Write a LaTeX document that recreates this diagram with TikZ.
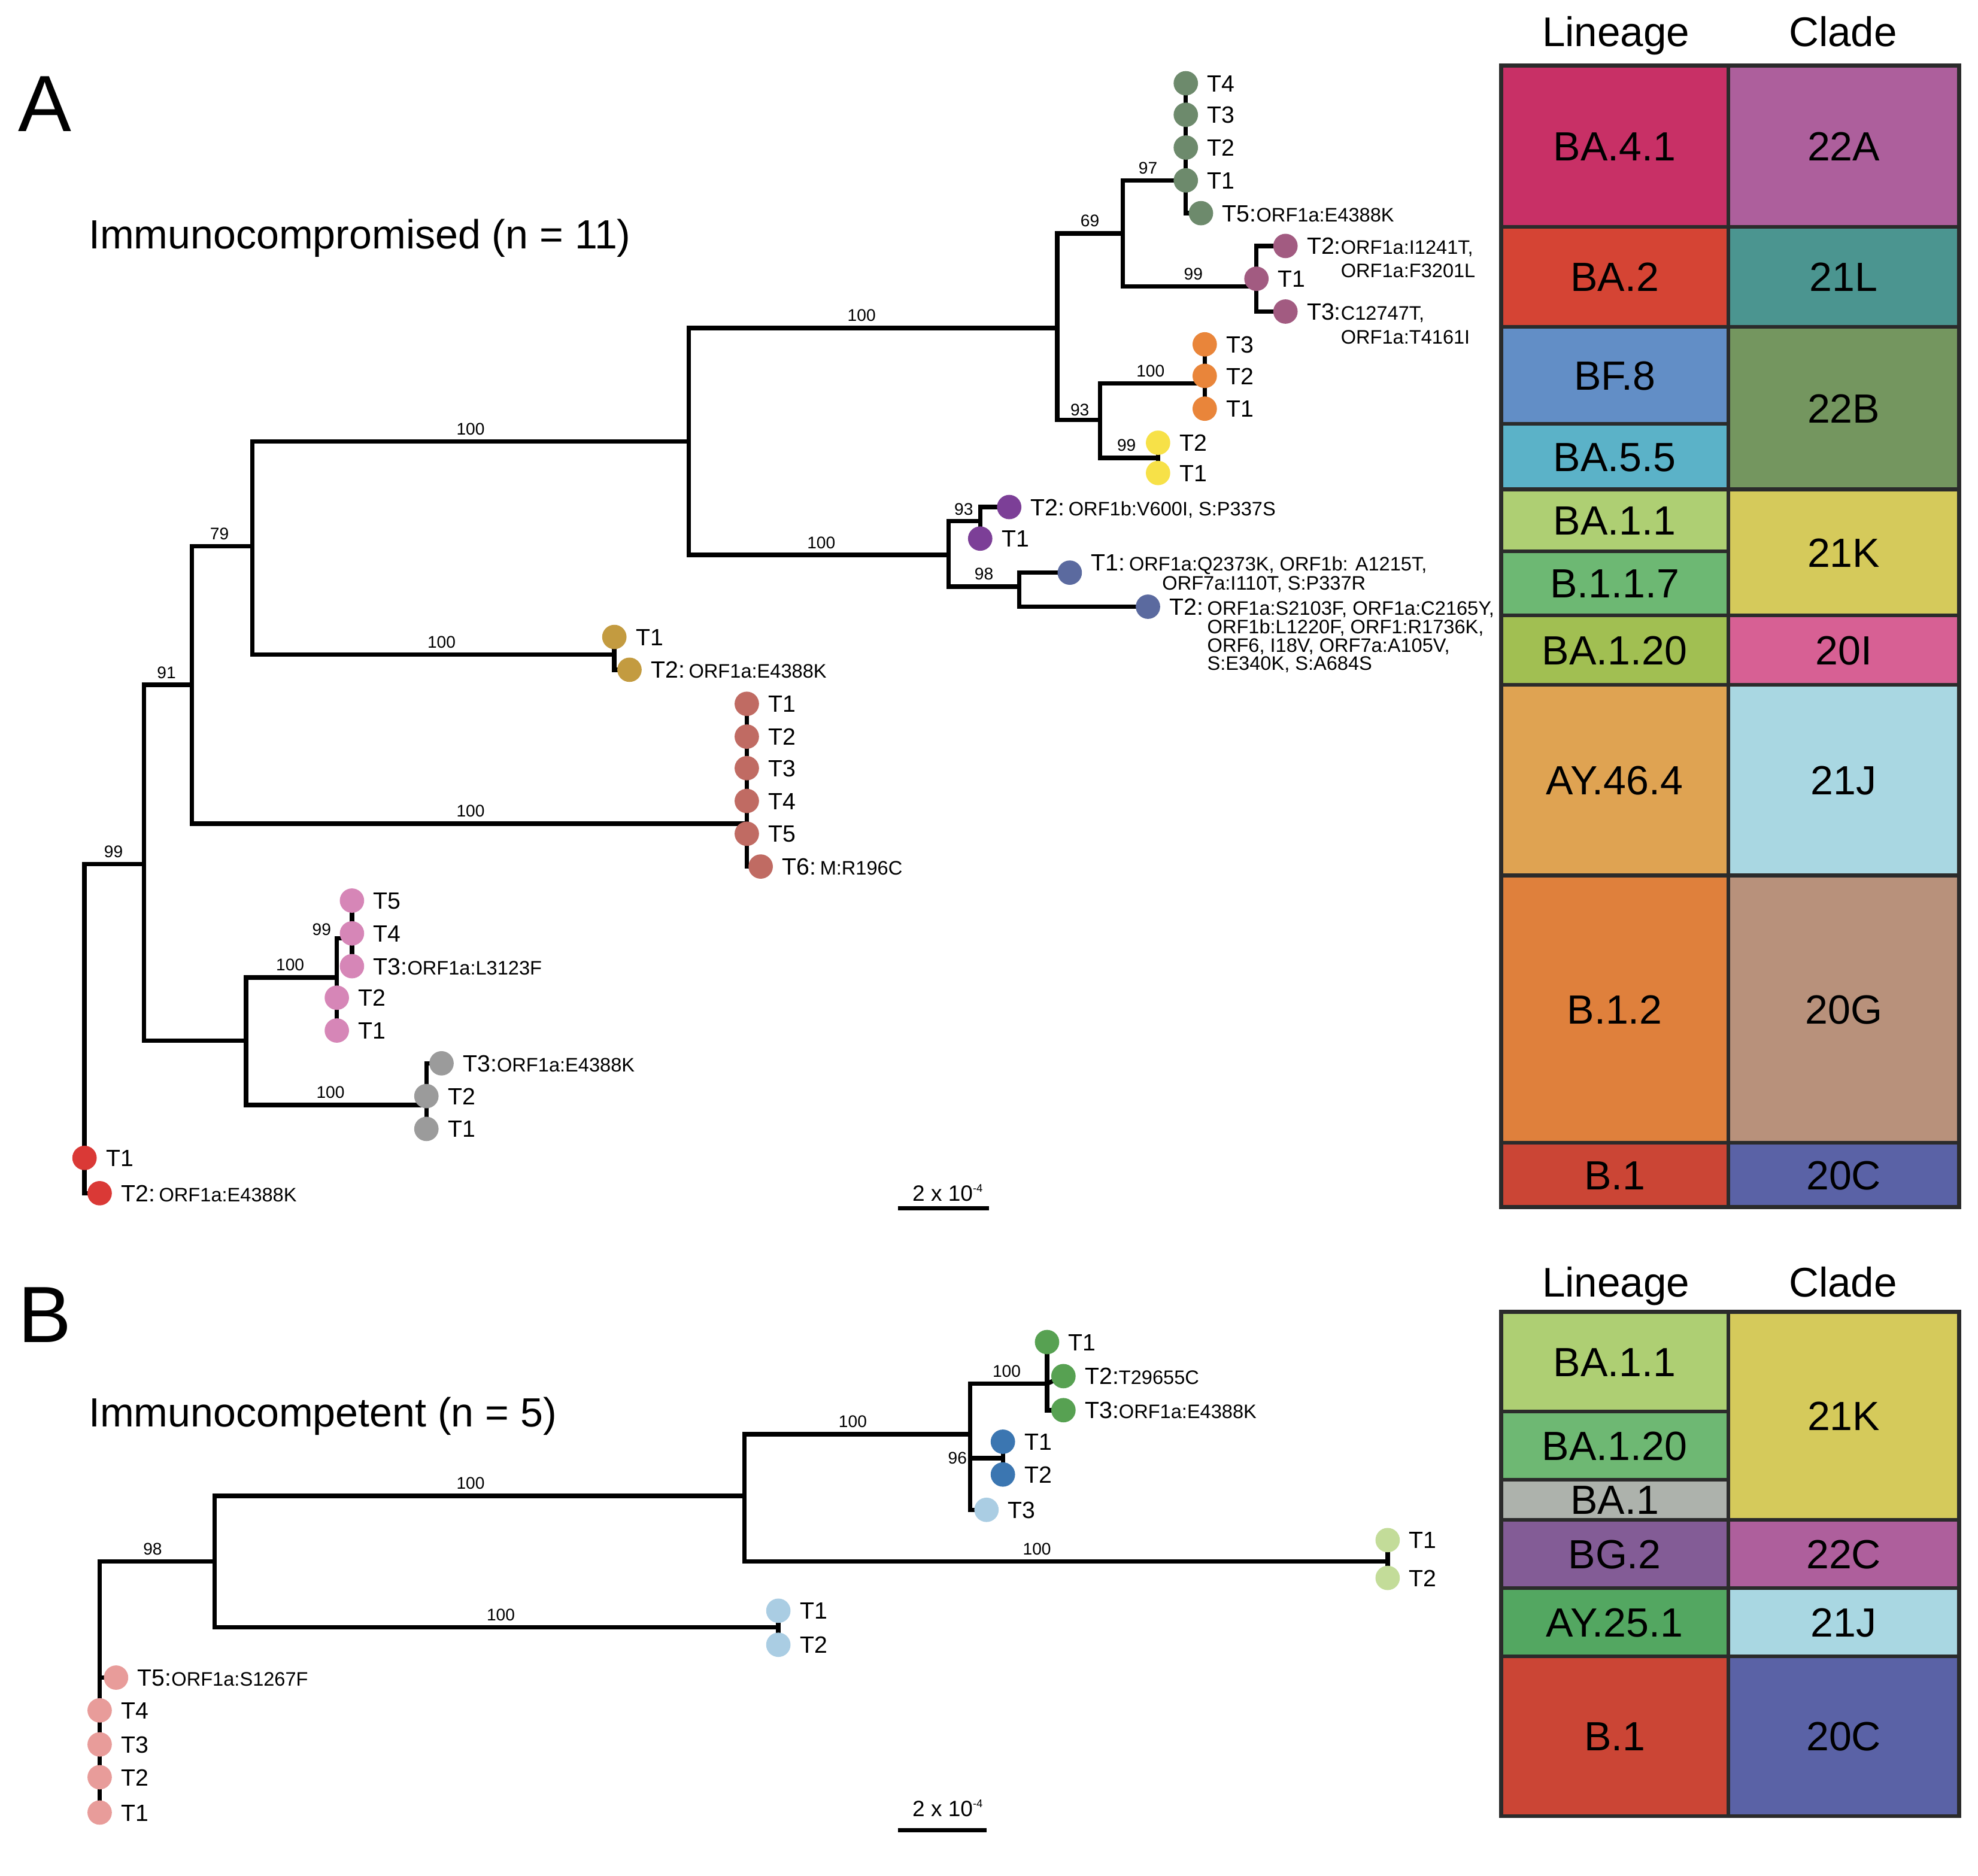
\documentclass[tikz,border=0pt]{standalone}
\usepackage{fontspec}
\setmainfont{Liberation Sans}
\usetikzlibrary{backgrounds}
% colours
\definecolor{tabline}{HTML}{2B2B2B}
\definecolor{cBAfourone}{HTML}{C83066}
\definecolor{cTwoTwoA}{HTML}{AD5F9C}
\definecolor{cBAtwo}{HTML}{D54434}
\definecolor{cTwoOneL}{HTML}{4B9590}
\definecolor{cBFeight}{HTML}{628EC6}
\definecolor{cTwoTwoB}{HTML}{74965F}
\definecolor{cBAfivefive}{HTML}{5BB2C8}
\definecolor{cBAoneone}{HTML}{AECF73}
\definecolor{cTwoOneK}{HTML}{D5CA5B}
\definecolor{cBoneoneseven}{HTML}{6DB873}
\definecolor{cBAonetwenty}{HTML}{A1BF52}
\definecolor{cTwoZeroI}{HTML}{D76094}
\definecolor{cAYfortysix}{HTML}{DFA352}
\definecolor{cTwoOneJ}{HTML}{A9D7E2}
\definecolor{cBonetwo}{HTML}{DF803C}
\definecolor{cTwoZeroG}{HTML}{B8917B}
\definecolor{cBone}{HTML}{CB4535}
\definecolor{cTwoZeroC}{HTML}{5A62A6}
\definecolor{cBAonetwentyB}{HTML}{6EB873}
\definecolor{cBAone}{HTML}{ADB2AC}
\definecolor{cBGtwo}{HTML}{835C96}
\definecolor{cTwoTwoC}{HTML}{AE5F9C}
\definecolor{cAYtwentyfive}{HTML}{53A761}
% tree dots
\definecolor{dgg}{HTML}{6D8A6C}
\definecolor{dmv}{HTML}{A25B81}
\definecolor{dor}{HTML}{E9853A}
\definecolor{dye}{HTML}{F7E148}
\definecolor{dpu}{HTML}{7C3F97}
\definecolor{dbg}{HTML}{5B6A9F}
\definecolor{dgo}{HTML}{C39B40}
\definecolor{dbr}{HTML}{C06B63}
\definecolor{dpk}{HTML}{D686B7}
\definecolor{dgy}{HTML}{9B9B9B}
\definecolor{drd}{HTML}{DA3936}
\definecolor{dgr}{HTML}{57A152}
\definecolor{dbl}{HTML}{3B76B1}
\definecolor{dlb}{HTML}{AACDE3}
\definecolor{dlg}{HTML}{C3DC99}
\definecolor{dsa}{HTML}{E89C9A}
% fonts
\newcommand\fTip{\fontsize{10.6pt}{12pt}\selectfont}
\newcommand\fBoot{\fontsize{7.6pt}{8pt}\selectfont}
\newcommand\fTitle{\fontsize{18.4pt}{22pt}\selectfont}
\newcommand\fPanel{\fontsize{36pt}{40pt}\selectfont}
\newcommand\fCell{\fontsize{18.4pt}{22pt}\selectfont}
\newcommand\fHead{\fontsize{18.7pt}{22pt}\selectfont}
\newcommand\fScale{\fontsize{10pt}{12pt}\selectfont}
\newcommand\mut[2][8.4pt]{{\fontsize{8.8pt}{#1}\selectfont\lineskiplimit=-30pt\vtop{\halign{##\hfil\cr#2\crcr}}}}
\newcommand\sbexp{\raisebox{0.75ex}{\fontsize{5pt}{6pt}\selectfont -4}}

\begin{document}
\begin{tikzpicture}[x=0.02cm,y=-0.02cm,
  dot/.style={circle, inner sep=0pt, minimum size=11pt, fill=#1},
  tl/.style={line width=2pt, line cap=rect, black},
  tipt/.style={anchor=base west, inner sep=0pt, xshift=9.5pt, yshift=-3.8pt, font=\fTip},
  boot/.style={anchor=base, inner sep=0pt, yshift=3pt, font=\fBoot},
  bootc/.style={anchor=center, inner sep=0pt, font=\fBoot},
  cellt/.style={anchor=base, inner sep=0pt, yshift=-6.6pt, font=\fCell},
  head/.style={anchor=base, inner sep=0pt, font=\fHead},
  tb/.style={line width=1.7pt, draw=tabline},
  ttl/.style={anchor=base west, inner sep=0pt, font=\fTitle},
  pnl/.style={anchor=base west, inner sep=0pt, font=\fPanel}
]
\newcommand\tip[6][]{\node[dot=#5] (#2) at (#3,#4) {}; \node[tipt,#1] (#2t) at (#2.center) {#6};}
\newcommand\cell[7]{\filldraw[tb, fill=#6] (#2,#3) rectangle (#4,#5); \node[cellt] (#1) at ({(#2+#4)/2},{(#3+#5)/2}) {#7};}
\useasboundingbox (0,0) rectangle (1568,1487);

% ---------------- Panel A ----------------
\node[pnl] (pA) at (14,104) {A};
\node[ttl] (titA) at (70,197) {Immunocompromised (n = 11)};

\coordinate (a0) at (67,685);
\coordinate (a1) at (114,685);
\coordinate (a2) at (152,543);
\coordinate (a3) at (195,825);
\coordinate (a4) at (200,433);
\coordinate (a5) at (546,350);
\coordinate (a6) at (838,260);
\coordinate (a7) at (752,440);
\coordinate (a8) at (890,185);
\coordinate (a9) at (872,333);
\coordinate (mvn) at (996,227);
\coordinate (orn) at (955,304);
\coordinate (yen) at (918,363);
\coordinate (pun) at (777,413);
\coordinate (bgn) at (808,465);
\coordinate (gon) at (487,519);
\coordinate (brn) at (592,653);
\coordinate (pkn) at (267,775);
\coordinate (pks) at (279,744);
\coordinate (gyn) at (338,876);

% tips
\tip{gg4}{940}{66}{dgg}{T4}
\tip{gg3}{940}{91}{dgg}{T3}
\tip{gg2}{940}{117}{dgg}{T2}
\tip{gg1}{940}{143}{dgg}{T1}
\tip{gg5}{952}{169}{dgg}{T5:\mut{ORF1a:E4388K}}
\tip{mv2}{1019}{195}{dmv}{T2:\mut[10.4pt]{ORF1a:I1241T,\cr ORF1a:F3201L}}
\tip{mv1}{996}{221}{dmv}{T1}
\tip{mv3}{1019}{247}{dmv}{T3:\mut[10.8pt]{C12747T,\cr ORF1a:T4161I}}
\tip{or3}{955}{273}{dor}{T3}
\tip{or2}{955}{298}{dor}{T2}
\tip{or1}{955}{324}{dor}{T1}
\tip{ye2}{918}{351}{dye}{T2}
\tip{ye1}{918}{375}{dye}{T1}
\tip{pu2}{800}{402}{dpu}{T2:\,\mut{ORF1b:V600I, S:P337S}}
\tip{pu1}{777}{427}{dpu}{T1}
\tip[yshift=4.6pt]{bg1}{848}{454}{dbg}{T1:\,\mut[8.5pt]{ORF1a:Q2373K, ORF1b: A1215T,\cr \hspace*{1.7em}ORF7a:I110T, S:P337R}}
\tip{bg2}{910}{481}{dbg}{T2:\,\mut[8.3pt]{ORF1a:S2103F, ORF1a:C2165Y,\cr ORF1b:L1220F, ORF1:R1736K,\cr ORF6, I18V, ORF7a:A105V,\cr S:E340K, S:A684S}}
\tip{go1}{487}{505}{dgo}{T1}
\tip{go2}{499}{531}{dgo}{T2:\,\mut{ORF1a:E4388K}}
\tip{br1}{592}{558}{dbr}{T1}
\tip{br2}{592}{584}{dbr}{T2}
\tip{br3}{592}{609}{dbr}{T3}
\tip{br4}{592}{635}{dbr}{T4}
\tip{br5}{592}{661}{dbr}{T5}
\tip{br6}{603}{687}{dbr}{T6:\,\mut{M:R196C}}
\tip{pk5}{279}{714}{dpk}{T5}
\tip{pk4}{279}{740}{dpk}{T4}
\tip{pk3}{279}{766}{dpk}{T3:\mut{ORF1a:L3123F}}
\tip{pk2}{267}{791}{dpk}{T2}
\tip{pk1}{267}{817}{dpk}{T1}
\tip{gy3}{350}{843}{dgy}{T3:\mut{ORF1a:E4388K}}
\tip{gy2}{338}{869}{dgy}{T2}
\tip{gy1}{338}{895}{dgy}{T1}
\tip{rd1}{67}{918}{drd}{T1}
\tip{rd2}{79}{946}{drd}{T2:\,\mut{ORF1a:E4388K}}

\begin{scope}[on background layer]
\draw[tl] (a0) -- (a1);
\draw[tl] (a0) -- (rd1.center);
\draw[tl] (rd1.center) |- (rd2.center);
\draw[tl] (a1) |- (a2);
\draw[tl] (a1) |- (a3);
\draw[tl] (a2) |- (a4);
\draw[tl] (a2) |- (brn);
\draw[tl] (a4) |- (a5);
\draw[tl] (a4) |- (gon);
\draw[tl] (a5) |- (a6);
\draw[tl] (a5) |- (a7);
\draw[tl] (a6) |- (a8);
\draw[tl] (a6) |- (a9);
\draw[tl] (a8) |- (gg1.center);
\draw[tl] (a8) |- (mvn);
\draw[tl] (a9) |- (orn);
\draw[tl] (a9) |- (yen);
\draw[tl] (a7) |- (pun);
\draw[tl] (a7) |- (bgn);
\draw[tl] (a3) |- (pkn);
\draw[tl] (a3) |- (gyn);
\draw[tl] (gg4.center) -- (gg1.center) |- (gg5.center);
\draw[tl] (mvn) |- (mv2.center);
\draw[tl] (mvn) |- (mv3.center);
\draw[tl] (or3.center) -- (or1.center);
\draw[tl] (ye2.center) -- (ye1.center);
\draw[tl] (pun) -- (pu1.center);
\draw[tl] (pun) |- (pu2.center);
\draw[tl] (bgn) |- (bg1.center);
\draw[tl] (bgn) |- (bg2.center);
\draw[tl] (go1.center) |- (go2.center);
\draw[tl] (br1.center) -- (br5.center) |- (br6.center);
\draw[tl] (pkn) |- (pks);
\draw[tl] (pkn) -- (pk1.center);
\draw[tl] (pk5.center) -- (pk3.center);
\draw[tl] (gy1.center) |- (gy3.center);
\end{scope}

% bootstrap A
\node[boot] (bA1) at (90,685) {99};
\node[boot] (bA2) at (132,543) {91};
\node[boot] (bA3) at (174,433) {79};
\node[boot] (bA4) at (373,653) {100};
\node[boot] (bA5) at (373,350) {100};
\node[boot] (bA6) at (350,519) {100};
\node[boot] (bA7) at (683,260) {100};
\node[boot] (bA8) at (651,440) {100};
\node[boot] (bA9) at (864,185) {69};
\node[boot] (bA10) at (910,143) {97};
\node[boot] (bA11) at (946,227) {99};
\node[boot] (bA12) at (912,304) {100};
\node[boot] (bA13) at (893,363) {99};
\node[boot] (bA14) at (780,465) {98};
\node[boot] (bA15) at (230,775) {100};
\node[boot] (bA16) at (262,876) {100};
\node[bootc] (bA17) at (856,325) {93};
\node[bootc] (bA18) at (764,404) {93};
\node[bootc] (bA19) at (255,737) {99};

% scale bar A
\node[anchor=base west, inner sep=0pt, font=\fScale] (sbAt) at (723,952) {2 x 10\sbexp};
\coordinate (sbA1) at (712,958);
\coordinate (sbA2) at (784,958);
\draw[line width=2pt] (sbA1) -- (sbA2);

% table A
\node[head] (hLA) at (1281,37) {Lineage};
\node[head] (hCA) at (1461,37) {Clade};
\cell{tA1}{1190}{52}{1370}{180}{cBAfourone}{BA.4.1}
\cell{tA2}{1190}{180}{1370}{259}{cBAtwo}{BA.2}
\cell{tA3}{1190}{259}{1370}{336}{cBFeight}{BF.8}
\cell{tA4}{1190}{336}{1370}{388}{cBAfivefive}{BA.5.5}
\cell{tA5}{1190}{388}{1370}{437}{cBAoneone}{BA.1.1}
\cell{tA6}{1190}{437}{1370}{488}{cBoneoneseven}{B.1.1.7}
\cell{tA7}{1190}{488}{1370}{543}{cBAonetwenty}{BA.1.20}
\cell{tA8}{1190}{543}{1370}{694}{cAYfortysix}{AY.46.4}
\cell{tA9}{1190}{694}{1370}{906}{cBonetwo}{B.1.2}
\cell{tA10}{1190}{906}{1370}{957}{cBone}{B.1}
\cell{cA1}{1370}{52}{1553}{180}{cTwoTwoA}{22A}
\cell{cA2}{1370}{180}{1553}{259}{cTwoOneL}{21L}
\cell{cA3}{1370}{259}{1553}{388}{cTwoTwoB}{22B}
\cell{cA4}{1370}{388}{1553}{488}{cTwoOneK}{21K}
\cell{cA5}{1370}{488}{1553}{543}{cTwoZeroI}{20I}
\cell{cA6}{1370}{543}{1553}{694}{cTwoOneJ}{21J}
\cell{cA7}{1370}{694}{1553}{906}{cTwoZeroG}{20G}
\cell{cA8}{1370}{906}{1553}{957}{cTwoZeroC}{20C}

% ---------------- Panel B ----------------
\node[pnl] (pB) at (14,1064) {B};
\node[ttl] (titB) at (70,1131) {Immunocompetent (n = 5)};

\coordinate (b0) at (79,1238);
\coordinate (b1) at (170,1238);
\coordinate (b2) at (590,1186);
\coordinate (b3) at (769,1137);
\coordinate (lbn) at (617,1290);
\coordinate (lgn) at (1100,1238);
\coordinate (grn) at (830,1097);
\coordinate (bln) at (795,1156);

\tip{gr1}{830}{1064}{dgr}{T1}
\tip{gr2}{843}{1091}{dgr}{T2:\mut{T29655C}}
\tip{gr3}{843}{1118}{dgr}{T3:\mut{ORF1a:E4388K}}
\tip{bl1}{795}{1143}{dbl}{T1}
\tip{bl2}{795}{1169}{dbl}{T2}
\tip{cy3}{782}{1197}{dlb}{T3}
\tip{lg1}{1100}{1221}{dlg}{T1}
\tip{lg2}{1100}{1251}{dlg}{T2}
\tip{lb1}{617}{1277}{dlb}{T1}
\tip{lb2}{617}{1304}{dlb}{T2}
\tip{sa5}{92}{1330}{dsa}{T5:\mut{ORF1a:S1267F}}
\tip{sa4}{79}{1356}{dsa}{T4}
\tip{sa3}{79}{1383}{dsa}{T3}
\tip{sa2}{79}{1409}{dsa}{T2}
\tip{sa1}{79}{1437}{dsa}{T1}

\begin{scope}[on background layer]
\draw[tl] (b0) -- (b1);
\draw[tl] (b0) |- (sa5.center);
\draw[tl] (b0) -- (sa1.center);
\draw[tl] (b1) |- (b2);
\draw[tl] (b1) |- (lbn);
\draw[tl] (b2) |- (b3);
\draw[tl] (b2) |- (lgn);
\draw[tl] (b3) |- (grn);
\draw[tl] (b3) |- (bln);
\draw[tl] (b3) |- (cy3.center);
\draw[tl] (gr1.center) |- (gr3.center);
\draw[tl] (grn) -- (gr2.center);
\draw[tl] (bln) -- (bl1.center);
\draw[tl] (bln) -- (bl2.center);
\draw[tl] (lb1.center) -- (lb2.center);
\draw[tl] (lg1.center) -- (lg2.center);
\end{scope}

% bootstrap B
\node[boot] (bB1) at (121,1238) {98};
\node[boot] (bB2) at (373,1186) {100};
\node[boot] (bB3) at (397,1290) {100};
\node[boot] (bB4) at (676,1137) {100};
\node[boot] (bB5) at (822,1238) {100};
\node[boot] (bB6) at (798,1097) {100};
\node[bootc] (bB7) at (759,1156) {96};

% scale bar B
\node[anchor=base west, inner sep=0pt, font=\fScale] (sbBt) at (723,1440) {2 x 10\sbexp};
\coordinate (sbB1) at (712,1451);
\coordinate (sbB2) at (782,1451);
\draw[line width=2pt] (sbB1) -- (sbB2);

% table B
\node[head] (hLB) at (1281,1028) {Lineage};
\node[head] (hCB) at (1461,1028) {Clade};
\cell{tB1}{1190}{1040}{1370}{1119}{cBAoneone}{BA.1.1}
\cell{tB2}{1190}{1119}{1370}{1173}{cBAonetwentyB}{BA.1.20}
\cell{tB3}{1190}{1173}{1370}{1205}{cBAone}{BA.1}
\cell{tB4}{1190}{1205}{1370}{1259}{cBGtwo}{BG.2}
\cell{tB5}{1190}{1259}{1370}{1313}{cAYtwentyfive}{AY.25.1}
\cell{tB6}{1190}{1313}{1370}{1440}{cBone}{B.1}
\cell{cB1}{1370}{1040}{1553}{1205}{cTwoOneK}{21K}
\cell{cB2}{1370}{1205}{1553}{1259}{cTwoTwoC}{22C}
\cell{cB3}{1370}{1259}{1553}{1313}{cTwoOneJ}{21J}
\cell{cB4}{1370}{1313}{1553}{1440}{cTwoZeroC}{20C}
\end{tikzpicture}
\end{document}
